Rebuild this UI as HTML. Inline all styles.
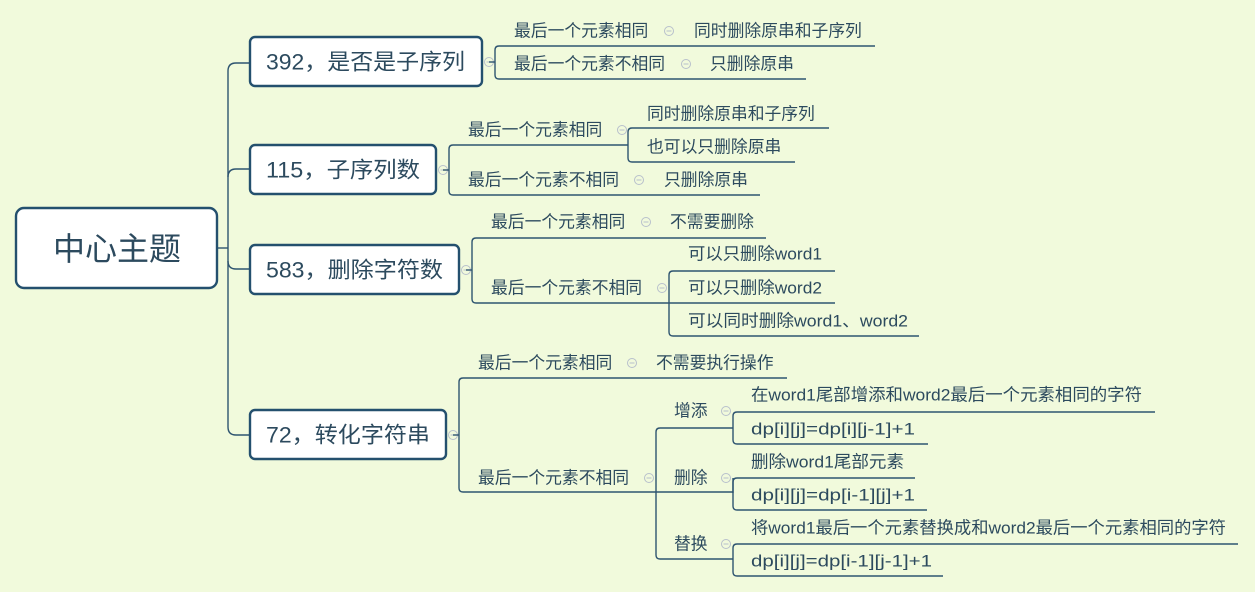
<!DOCTYPE html>
<html><head><meta charset="utf-8"><style>
html,body{margin:0;padding:0;background:#f1fadc;}
svg{display:block;}
text{font-family:"Liberation Sans","Noto Sans CJK SC",sans-serif;fill:#2c4a5e;dominant-baseline:central;}
.l{font-size:16.8px;}
.t{font-size:22px;}
.ln{stroke:#2e5470;stroke-width:1.4;fill:none;}
.box{fill:#fff;stroke:#24506e;stroke-width:2.4;}
.m circle{fill:#f1fadc;stroke:#b8c0cc;stroke-width:1;}
.m line{stroke:#b8c0cc;stroke-width:1;}
</style></head><body>
<svg width="1255" height="592" viewBox="0 0 1255 592" xmlns="http://www.w3.org/2000/svg">
<defs>
<g id="mn" class="m"><circle cx="0" cy="0" r="4.5"/><line x1="-2.5" y1="0" x2="2.5" y2="0"/></g>
</defs>
<!-- trunk -->
<path class="ln" d="M217 248 H228"/>
<path class="ln" d="M250 63 H236 Q228 63 228 71 V427 Q228 435 236 435 H250"/>
<path class="ln" d="M228 177 Q228 169 236 169 H250"/>
<path class="ln" d="M228 261 Q228 269 236 269 H250"/>

<!-- center -->
<rect class="box" x="16" y="208" width="201" height="80" rx="8"/>
<text x="117" y="249" text-anchor="middle" style="font-size:32px">中心主题</text>

<!-- 392 -->
<rect class="box" x="250" y="37" width="232" height="49" rx="5"/>
<text class="t" x="266" y="62" textLength="199" lengthAdjust="spacingAndGlyphs">392，是否是子序列</text>
<use href="#mn" x="489" y="62"/>
<path class="ln" d="M489 62 H495"/>
<path class="ln" d="M875 46 H499 Q495 46 495 50 V75 Q495 79 499 79 H806"/>
<text class="l" x="514" y="31">最后一个元素相同</text><use href="#mn" x="669" y="31"/><text class="l" x="694" y="31">同时删除原串和子序列</text>
<text class="l" x="514" y="64">最后一个元素不相同</text><use href="#mn" x="686" y="64"/><text class="l" x="710" y="64">只删除原串</text>

<!-- 115 -->
<rect class="box" x="250" y="145" width="186" height="49" rx="5"/>
<text class="t" x="266" y="170" textLength="154" lengthAdjust="spacingAndGlyphs">115，子序列数</text>
<use href="#mn" x="443" y="170"/>
<path class="ln" d="M443 170 H449"/>
<path class="ln" d="M628 145 H453 Q449 145 449 149 V191 Q449 195 453 195 H760"/>
<path class="ln" d="M829 128 H632 Q628 128 628 132 V158 Q628 162 632 162 H795"/>
<text class="l" x="468" y="130">最后一个元素相同</text><use href="#mn" x="622" y="130"/>
<text class="l" x="647" y="114">同时删除原串和子序列</text>
<text class="l" x="647" y="147">也可以只删除原串</text>
<text class="l" x="468" y="180">最后一个元素不相同</text><use href="#mn" x="639" y="180"/><text class="l" x="664" y="180">只删除原串</text>

<!-- 583 -->
<rect class="box" x="250" y="245" width="209" height="49" rx="5"/>
<text class="t" x="266" y="270" textLength="177" lengthAdjust="spacingAndGlyphs">583，删除字符数</text>
<use href="#mn" x="466" y="270"/>
<path class="ln" d="M466 270 H472"/>
<path class="ln" d="M766 238 H476 Q472 238 472 242 V299 Q472 303 476 303 H835"/>
<path class="ln" d="M835 271 H673 Q669 271 669 275 V332 Q669 336 673 336 H919"/>
<text class="l" x="491" y="222">最后一个元素相同</text><use href="#mn" x="646" y="222"/><text class="l" x="670" y="222">不需要删除</text>
<text class="l" x="491" y="288">最后一个元素不相同</text><use href="#mn" x="662" y="288"/>
<text class="l" x="688" y="254" textLength="134" lengthAdjust="spacingAndGlyphs">可以只删除word1</text>
<text class="l" x="688" y="288" textLength="134" lengthAdjust="spacingAndGlyphs">可以只删除word2</text>
<text class="l" x="688" y="321" textLength="220" lengthAdjust="spacingAndGlyphs">可以同时删除word1、word2</text>

<!-- 72 -->
<rect class="box" x="250" y="410" width="196" height="49" rx="5"/>
<text class="t" x="266" y="435" textLength="164" lengthAdjust="spacingAndGlyphs">72，转化字符串</text>
<use href="#mn" x="453" y="435"/>
<path class="ln" d="M453 435 H459"/>
<path class="ln" d="M787 378 H463 Q459 378 459 382 V488 Q459 492 463 492 H733"/>
<path class="ln" d="M733 428 H660 Q656 428 656 432 V555 Q656 559 660 559 H733"/>
<path class="ln" d="M1155 412 H737 Q733 412 733 416 V440 Q733 444 737 444 H928"/>
<path class="ln" d="M915 478 H737 Q733 478 733 482 V506 Q733 510 737 510 H927"/>
<path class="ln" d="M733 493 V478"/>
<path class="ln" d="M1238 544 H737 Q733 544 733 548 V572 Q733 576 737 576 H943"/>
<text class="l" x="478" y="363">最后一个元素相同</text><use href="#mn" x="632" y="363"/><text class="l" x="656" y="363">不需要执行操作</text>
<text class="l" x="478" y="478">最后一个元素不相同</text><use href="#mn" x="649" y="478"/>
<text class="l" x="674" y="411">增添</text><use href="#mn" x="726" y="411"/>
<text class="l" x="674" y="478">删除</text><use href="#mn" x="726" y="478"/>
<text class="l" x="674" y="544">替换</text><use href="#mn" x="726" y="544"/>
<text class="l" x="751" y="395" textLength="391" lengthAdjust="spacingAndGlyphs">在word1尾部增添和word2最后一个元素相同的字符</text>
<text class="l" x="751" y="429" textLength="164" lengthAdjust="spacingAndGlyphs">dp[i][j]=dp[i][j-1]+1</text>
<text class="l" x="751" y="462" textLength="153" lengthAdjust="spacingAndGlyphs">删除word1尾部元素</text>
<text class="l" x="751" y="495" textLength="164" lengthAdjust="spacingAndGlyphs">dp[i][j]=dp[i-1][j]+1</text>
<text class="l" x="751" y="528" textLength="475" lengthAdjust="spacingAndGlyphs">将word1最后一个元素替换成和word2最后一个元素相同的字符</text>
<text class="l" x="751" y="561" textLength="181" lengthAdjust="spacingAndGlyphs">dp[i][j]=dp[i-1][j-1]+1</text>
</svg>
</body></html>
